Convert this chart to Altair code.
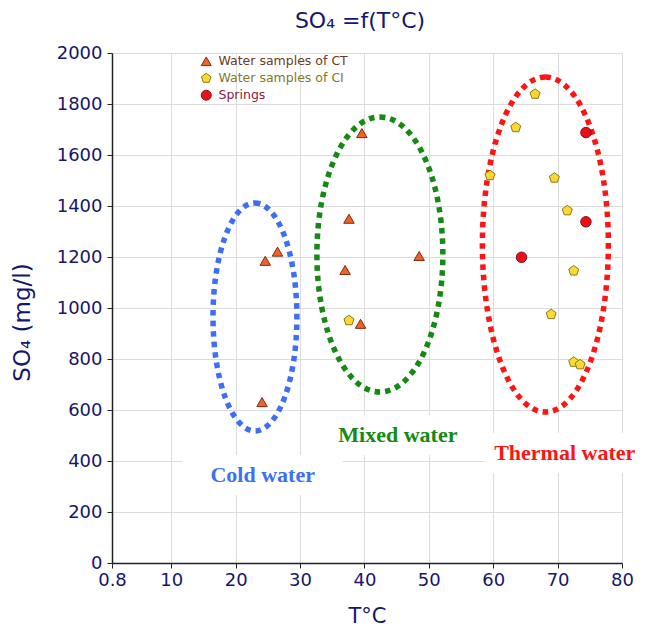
import altair as alt
import pandas as pd

# ---- data ----
ct_t = [24.6, 26.5, 24.1, 37.6, 37.0, 39.4, 39.6, 48.5]
ct_so4 = [1185, 1221, 631, 1350, 1149, 938, 1686, 1204]

ci_t = [37.6, 66.5, 63.5, 59.5, 69.5, 71.5, 72.5, 69.0, 72.5, 73.5]
ci_so4 = [951, 1839, 1708, 1520, 1510, 1382, 1146, 975, 788, 778]

sp_t = [74.4, 74.4, 64.4]
sp_so4 = [1688, 1338, 1199]

groups = ["Water samples of CT", "Water samples of CI", "Springs"]

zones = ["Cold water", "Mixed water", "Thermal water"]
zone_center_t = [23.0, 42.4, 68.1]
zone_center_so4 = [965, 1210, 1249]
label_t = [24.2, 45.2, 71.1]
label_so4 = [345, 502, 431]

x_ticks = [0.8, 10, 20, 30, 40, 50, 60, 70, 80]
y_ticks = [0, 200, 400, 600, 800, 1000, 1200, 1400, 1600, 1800, 2000]

# ---- styles ----
NAVY = "#16166b"
zone_colors = ["#3d6ff5", "#148a14", "#ff1414"]
fills = ["#f0622a", "#fbd932", "#ee1010"]
strokes = ["#7a2e10", "#8a7a10", "#7a1030"]
PENTAGON = "M0,-1L0.951,-0.309L0.588,0.809L-0.588,0.809L-0.951,-0.309Z"
shapes = ["triangle-up", PENTAGON, "circle"]

pts_df = pd.DataFrame({
    "T": ct_t + ci_t + sp_t,
    "SO4": ct_so4 + ci_so4 + sp_so4,
    "group": [groups[0]] * len(ct_t) + [groups[1]] * len(ci_t) + [groups[2]] * len(sp_t),
})
zone_df = pd.DataFrame({"zone": zones, "T": zone_center_t, "SO4": zone_center_so4})
label_df = pd.DataFrame({"zone": zones, "T": label_t, "SO4": label_so4})

xscale = alt.Scale(domain=[0.8, 80], nice=False, zero=False)
yscale = alt.Scale(domain=[0, 2000], nice=False, zero=True)

X = alt.X("T:Q", scale=xscale, title="T°C",
          axis=alt.Axis(values=x_ticks, labelOverlap=False, labelFlush=False,
                        labelExpr="datum.value < 1 ? '0.8' : format(datum.value, 'd')",
                        titlePadding=16))
Y = alt.Y("SO4:Q", scale=yscale, title="SO₄  (mg/l)",
          axis=alt.Axis(values=y_ticks, format="d", labelOverlap=False, labelFlush=False,
                        labelPadding=5, titleX=-78, titleY=269, titleFontSize=23))

label_color_expr = (
    "datum.label == 'Springs' ? '#8a2040' : "
    "(datum.label == 'Water samples of CI' ? '#7d7a2a' : '#6e3a1c')"
)
leg = alt.Legend(
    title=None, orient="none", legendX=88, legendY=2,
    labelFont="DejaVu Sans", labelFontSize=12.5,
    labelColor=alt.ExprRef(expr=label_color_expr),
    symbolSize=100, symbolStrokeWidth=1, rowPadding=3, labelOffset=6,
)

# white boxes behind zone labels
boxes = alt.Chart(label_df).mark_rect(
    fill="white", xOffset=-80, x2Offset=80, yOffset=-20, y2Offset=20
).encode(x=X, x2="T:Q", y=Y, y2="SO4:Q")

# dotted ellipses (custom symbol paths)
ell_dims = [(84, 228), (126, 275), (126, 335)]
ellipses = []
for i, (w, h) in enumerate(ell_dims):
    rx = w / h
    path = f"M0,-1A{rx:.3f},1 0 1,1 0,1A{rx:.3f},1 0 1,1 0,-1Z"
    ellipses.append(
        alt.Chart(zone_df.iloc[[i]]).mark_point(
            shape=path, size=h * h, filled=False, stroke=zone_colors[i],
            strokeWidth=5.5, strokeDash=[5.5, 5], opacity=1,
        ).encode(x=X, y=Y)
    )

texts = alt.Chart(label_df).mark_text(
    font="Liberation Serif", fontWeight="bold", fontSize=22
).encode(
    x=X, y=Y, text="zone:N",
    color=alt.Color("zone:N", scale=alt.Scale(domain=zones, range=zone_colors), legend=None),
)

pts = alt.Chart(pts_df).mark_point(
    filled=True, opacity=1, strokeWidth=1, size=110
).encode(
    x=X, y=Y,
    shape=alt.Shape("group:N", scale=alt.Scale(domain=groups, range=shapes), legend=leg),
    fill=alt.Fill("group:N", scale=alt.Scale(domain=groups, range=fills), legend=leg),
    stroke=alt.Stroke("group:N", scale=alt.Scale(domain=groups, range=strokes), legend=leg),
)

chart = alt.layer(boxes, *ellipses, texts, pts).properties(
    width=510, height=510,
    title=alt.TitleParams("SO₄ =f(T°C)", font="DejaVu Sans", fontSize=22,
                          fontWeight="normal", color=NAVY, anchor="middle",
                          offset=11, dx=-7),
    padding={"left": 112, "top": 53, "right": 27, "bottom": 71},
    autosize=alt.AutoSizeParams(type="none"),
).configure_view(stroke=None).configure_axis(
    labelFont="DejaVu Sans", labelFontSize=18, labelColor=NAVY,
    titleFont="DejaVu Sans", titleFontSize=21, titleFontWeight="normal", titleColor=NAVY,
    domainColor="#222222", domainWidth=1.5, tickColor="#222222", tickSize=5,
    gridColor="#dcdcdc", gridWidth=1, labelPadding=3,
)

chart.save("out.html", embed_options={"renderer": "svg", "actions": False})
